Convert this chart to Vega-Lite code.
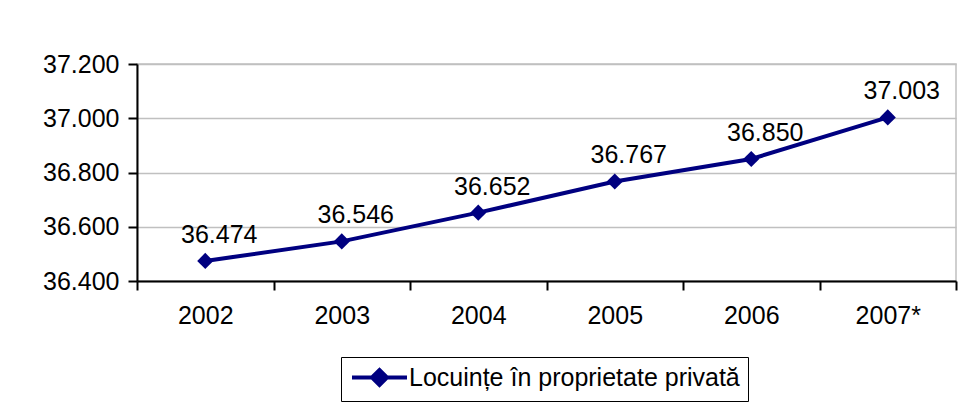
{
  "$schema": "https://vega.github.io/schema/vega-lite/v6.json",
  "width": 819,
  "height": 217,
  "autosize": {"type": "none"},
  "padding": {"left": 137, "top": 64, "right": 18, "bottom": 133},
  "background": "white",
  "config": {
    "font": "Liberation Sans",
    "view": {"stroke": "#c0c0c0", "strokeWidth": 1.5}
  },
  "data": {
    "values": [
      {"an": "2002", "valoare": 36.474, "serie": "Locuințe în proprietate privată"},
      {"an": "2003", "valoare": 36.546, "serie": "Locuințe în proprietate privată"},
      {"an": "2004", "valoare": 36.652, "serie": "Locuințe în proprietate privată"},
      {"an": "2005", "valoare": 36.767, "serie": "Locuințe în proprietate privată"},
      {"an": "2006", "valoare": 36.850, "serie": "Locuințe în proprietate privată"},
      {"an": "2007*", "valoare": 37.003, "serie": "Locuințe în proprietate privată"}
    ]
  },
  "encoding": {
    "x": {
      "field": "an", "type": "nominal", "sort": null,
      "scale": {"paddingInner": 0, "paddingOuter": 0},
      "axis": {
        "title": null, "labelAngle": 0, "tickBand": "extent", "grid": false,
        "labelFont": "Liberation Sans", "labelFontSize": 25, "labelColor": "black",
        "labelPadding": 13, "tickSize": 9, "tickWidth": 2, "tickColor": "black",
        "domainColor": "black", "domainWidth": 2
      }
    },
    "y": {
      "field": "valoare", "type": "quantitative",
      "scale": {"domain": [36.4, 37.2], "zero": false, "nice": false},
      "axis": {
        "title": null, "values": [36.4, 36.6, 36.8, 37.0, 37.2], "format": ".3f",
        "labelFont": "Liberation Sans", "labelFontSize": 25, "labelColor": "black",
        "labelPadding": 9, "tickSize": 9, "tickWidth": 2, "tickColor": "black",
        "domainColor": "black", "domainWidth": 2,
        "grid": true, "gridColor": "#c0c0c0", "gridWidth": 1.5
      }
    }
  },
  "layer": [
    {
      "mark": {"type": "line", "strokeWidth": 4},
      "encoding": {
        "color": {
          "field": "serie", "type": "nominal",
          "scale": {"range": ["#000080"]},
          "legend": {
            "title": null, "orient": "none", "legendX": 204, "legendY": 293,
            "direction": "horizontal",
            "symbolType": "M-2.75,0H2.75M-0.75,0L0,-0.75L0.75,0L0,0.75Z",
            "symbolSize": 400, "symbolOffset": 18,
            "symbolFillColor": "#000080", "symbolStrokeColor": "#000080",
            "symbolStrokeWidth": 4,
            "labelFont": "Liberation Sans", "labelFontSize": 25, "labelColor": "black",
            "labelOffset": 17, "labelLimit": 600,
            "strokeColor": "black", "padding": 8, "fillColor": "white"
          }
        }
      }
    },
    {
      "mark": {"type": "point", "shape": "diamond", "filled": true, "size": 260, "opacity": 1, "color": "#000080"}
    },
    {
      "mark": {"type": "text", "fontSize": 25, "font": "Liberation Sans", "color": "black", "baseline": "bottom", "align": "center", "dx": 14, "dy": -13},
      "encoding": {"text": {"field": "valoare", "type": "quantitative", "format": ".3f"}}
    }
  ]
}
